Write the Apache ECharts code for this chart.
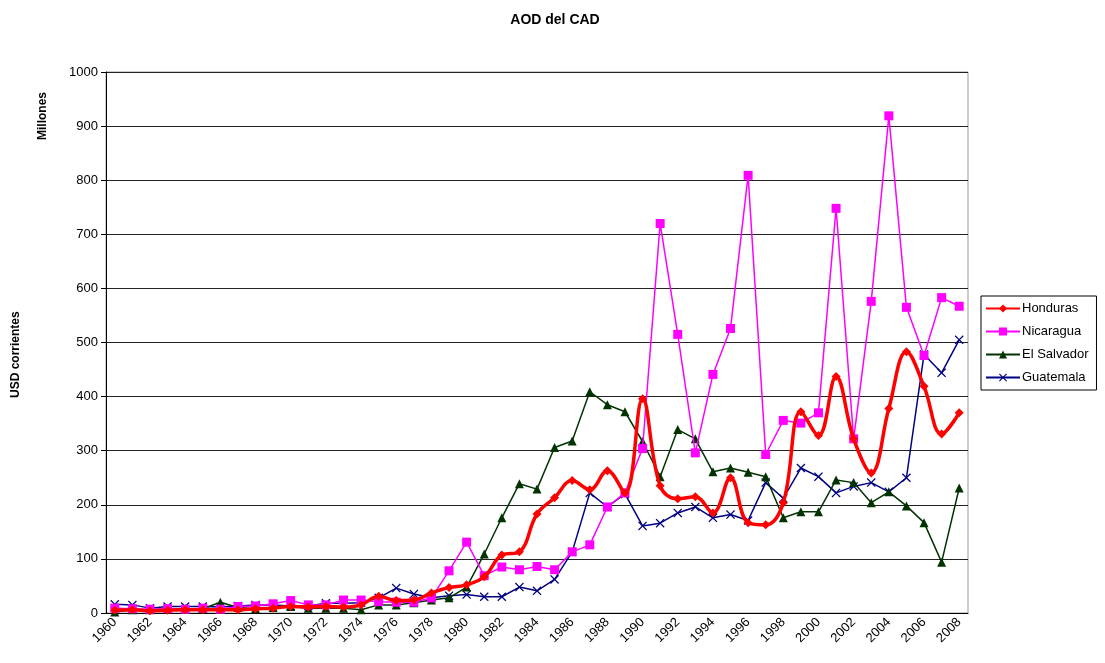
<!DOCTYPE html>
<html lang="es">
<head>
    <meta charset="utf-8" />
    <script src="https://cdn.jsdelivr.net/npm/echarts@6/dist/echarts.min.js"></script>
    <title>AOD del CAD</title>
</head>
<body style="margin:0;">
<div id="main" style="width:1105px; height:663px;"></div>
<script type="text/javascript">
    // years on the x axis
    let years = [];
    for (let y = 1960; y <= 2008; y++) years.push(String(y));

    // millions of current USD
    let honduras = [5, 6, 4, 5, 6, 6, 6, 6, 8, 9, 12, 11, 12, 11, 15, 31, 23, 24, 37, 47,
        52, 67, 107, 113, 183, 213, 245, 228, 263, 222, 396, 235, 211, 215, 185, 250, 167, 163, 204, 372,
        328, 437, 322, 259, 378, 483, 419, 331, 370];
    let nicaragua = [9, 8, 7, 8, 7, 9, 7, 12, 13, 17, 23, 15, 15, 24, 24, 21, 20, 20, 28, 78,
        131, 69, 85, 80, 86, 80, 113, 126, 196, 222, 304, 720, 515, 296, 441, 526, 809, 293, 356, 351,
        370, 748, 322, 576, 919, 565, 476, 583, 567];
    let elSalvador = [2, 6, 6, 8, 8, 8, 20, 10, 8, 10, 12, 9, 9, 9, 6, 15, 15, 19, 24, 28,
        48, 109, 176, 239, 229, 306, 318, 409, 385, 372, 317, 252, 339, 322, 261, 268, 260, 252, 176, 187,
        187, 246, 241, 204, 224, 198, 167, 94, 231];
    let guatemala = [16, 15, 9, 12, 12, 12, 11, 13, 15, 15, 13, 13, 18, 18, 19, 28, 46, 35, 28, 32,
        34, 30, 30, 48, 41, 62, 113, 222, 196, 220, 161, 166, 185, 196, 176, 182, 171, 241, 212, 268,
        252, 222, 234, 241, 224, 250, 478, 444, 505];

    let xMark = 'path://M0,1L1,0L5,4L9,0L10,1L6,5L10,9L9,10L5,6L1,10L0,9L4,5Z';
    let font = 'Arial, "Liberation Sans", sans-serif';

    let myChart = echarts.init(document.getElementById('main'));
    let option = {
        animation: false,
        textStyle: { fontFamily: font },
        title: {
            text: 'AOD del CAD',
            left: 550,
            textAlign: 'center',
            top: 8,
            textStyle: { fontSize: 14, fontWeight: 'bold', color: '#000', fontFamily: font }
        },
        grid: {
            left: 106, right: 137, top: 72, bottom: 50,
            show: true, borderColor: '#999', borderWidth: 1
        },
        legend: {
            orient: 'vertical',
            left: 981, top: 296,
            width: 122,
            padding: [6, 8, 6, 4],
            itemGap: 10,
            itemWidth: 34,
            itemHeight: 10,
            borderColor: '#000',
            borderWidth: 1,
            textStyle: { fontSize: 13, color: '#000', fontFamily: font, padding: [0, 0, 0, -3] },
            data: ['Honduras', 'Nicaragua', 'El Salvador', 'Guatemala']
        },
        graphic: [
            {
                type: 'text', x: 37, y: 140, rotation: Math.PI / 2,
                style: { text: 'Millones', font: 'bold 12px Arial, "Liberation Sans"', fill: '#000' }
            },
            {
                type: 'text', x: 10, y: 398, rotation: Math.PI / 2,
                style: { text: 'USD corrientes', font: 'bold 12px Arial, "Liberation Sans"', fill: '#000' }
            }
        ],
        xAxis: {
            type: 'category',
            data: years,
            boundaryGap: true,
            axisLine: { lineStyle: { color: '#000', width: 1 } },
            axisTick: { interval: 0, length: 5, lineStyle: { color: '#000' } },
            axisLabel: { interval: 1, rotate: 45, fontSize: 13, color: '#000', margin: 7 }
        },
        yAxis: {
            type: 'value',
            min: 0, max: 1000, interval: 100,
            axisLine: { show: true, lineStyle: { color: '#000', width: 1 } },
            axisTick: { show: true, length: 5, lineStyle: { color: '#000' } },
            axisLabel: { fontSize: 13, color: '#000', margin: 8, formatter: function (v) { return String(v); } },
            splitLine: { lineStyle: { color: '#222', width: 1 } }
        },
        series: [
            {
                name: 'Guatemala', type: 'line', data: guatemala,
                symbol: xMark, symbolSize: 9,
                itemStyle: { color: '#000080' },
                lineStyle: { color: '#000080', width: 1.5 },
                z: 2
            },
            {
                name: 'El Salvador', type: 'line', data: elSalvador,
                symbol: 'triangle', symbolSize: 9,
                itemStyle: { color: '#003300' },
                lineStyle: { color: '#003300', width: 1.5 },
                z: 3
            },
            {
                name: 'Nicaragua', type: 'line', data: nicaragua,
                symbol: 'rect', symbolSize: 9,
                itemStyle: { color: '#ff00ff' },
                lineStyle: { color: '#ff00ff', width: 1.5 },
                z: 4
            },
            {
                name: 'Honduras', type: 'line', data: honduras,
                smooth: 0.4,
                symbol: 'diamond', symbolSize: 9,
                itemStyle: { color: '#ff0000' },
                lineStyle: { color: '#ff0000', width: 3.5 },
                z: 5
            }
        ]
    };
    myChart.setOption(option);
</script>
</body>
</html>
